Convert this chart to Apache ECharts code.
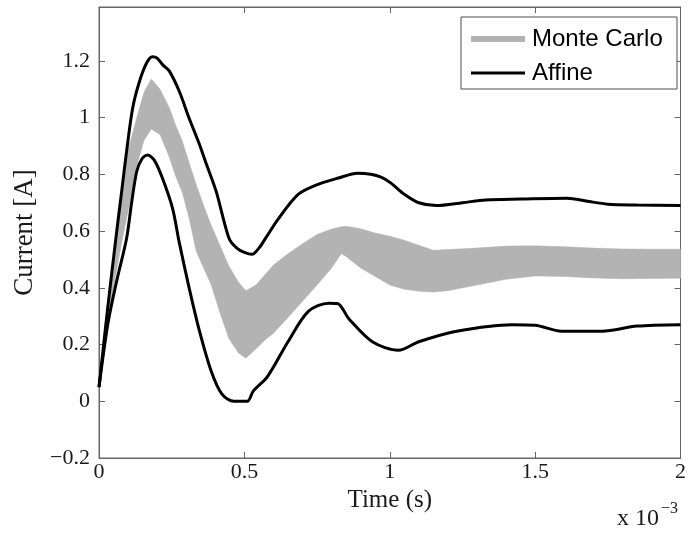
<!DOCTYPE html>
<html>
<head>
<meta charset="utf-8">
<script src="https://cdn.jsdelivr.net/npm/echarts@6/dist/echarts.min.js"></script>
<style>
  html, body { margin: 0; padding: 0; background: #fff; }
  #chart { width: 689px; height: 536px; }
</style>
</head>
<body>
<div id="chart"></div>
<script>
// Time in units of 1e-3 s
const bandTime = [0, 0.02, 0.04, 0.055, 0.08, 0.10, 0.13, 0.155, 0.18, 0.21, 0.242, 0.265, 0.287, 0.31, 0.334, 0.36, 0.386, 0.42, 0.447, 0.48, 0.505, 0.54, 0.57, 0.60, 0.65, 0.70, 0.75, 0.80, 0.833, 0.85, 0.90, 0.95, 1.0, 1.05, 1.10, 1.15, 1.20, 1.30, 1.40, 1.50, 1.60, 1.70, 1.80, 1.90, 2.0];
// Monte Carlo envelope (upper / lower edge of all runs), A
const mcUpper = [0.05, 0.25, 0.42, 0.564, 0.72, 0.885, 1.0, 1.09, 1.136, 1.10, 1.035, 0.97, 0.917, 0.84, 0.765, 0.69, 0.62, 0.54, 0.476, 0.42, 0.39, 0.41, 0.445, 0.48, 0.52, 0.555, 0.588, 0.607, 0.615, 0.617, 0.608, 0.593, 0.582, 0.568, 0.55, 0.532, 0.535, 0.54, 0.547, 0.548, 0.545, 0.54, 0.537, 0.536, 0.536];
const mcLower = [0.05, 0.18, 0.33, 0.43, 0.57, 0.67, 0.83, 0.92, 0.96, 0.94, 0.86, 0.79, 0.735, 0.645, 0.53, 0.47, 0.41, 0.30, 0.22, 0.17, 0.152, 0.185, 0.215, 0.24, 0.295, 0.353, 0.41, 0.47, 0.52, 0.51, 0.47, 0.44, 0.41, 0.395, 0.388, 0.385, 0.39, 0.41, 0.43, 0.442, 0.44, 0.435, 0.432, 0.433, 0.434];

// Affine arithmetic bounds
const affineUpperTime = [0, 0.03, 0.061, 0.078, 0.095, 0.116, 0.14, 0.165, 0.184, 0.20, 0.22, 0.242, 0.276, 0.31, 0.345, 0.368, 0.403, 0.447, 0.474, 0.50, 0.526, 0.55, 0.573, 0.618, 0.686, 0.754, 0.823, 0.89, 0.935, 0.97, 1.003, 1.05, 1.10, 1.16, 1.25, 1.33, 1.45, 1.61, 1.68, 1.75, 1.85, 2.0];
const affineUpper = [0.05, 0.33, 0.6, 0.74, 0.882, 1.035, 1.13, 1.195, 1.215, 1.21, 1.185, 1.164, 1.093, 0.998, 0.907, 0.84, 0.74, 0.575, 0.54, 0.525, 0.518, 0.54, 0.575, 0.645, 0.73, 0.765, 0.787, 0.804, 0.80, 0.79, 0.77, 0.73, 0.70, 0.69, 0.70, 0.71, 0.713, 0.716, 0.705, 0.695, 0.692, 0.69];
const affineLowerTime = [0, 0.03, 0.06, 0.095, 0.113, 0.13, 0.148, 0.167, 0.19, 0.218, 0.253, 0.276, 0.31, 0.345, 0.386, 0.423, 0.464, 0.51, 0.53, 0.58, 0.65, 0.72, 0.79, 0.82, 0.86, 0.94, 1.03, 1.10, 1.23, 1.42, 1.5, 1.59, 1.73, 1.85, 2.0];
const affineLower = [0.05, 0.27, 0.42, 0.575, 0.706, 0.811, 0.855, 0.868, 0.85, 0.787, 0.68, 0.56, 0.40, 0.25, 0.106, 0.025, 0, 0, 0.035, 0.088, 0.21, 0.317, 0.346, 0.345, 0.29, 0.21, 0.18, 0.21, 0.247, 0.27, 0.268, 0.247, 0.247, 0.265, 0.27];

const xTicks = [0, 0.5, 1, 1.5, 2];

const pair = (t, v) => t.map((x, i) => [x, v[i]]);
const bandRows = bandTime.map((t, i) => [t, mcLower[i], mcUpper[i]]);

const axisGray = '#666';
const textColor = '#1a1a1a';
const serif = '"Liberation Serif", "Times New Roman", serif';
const sans = '"Liberation Sans", Arial, sans-serif';
const fmtY = v => {
  const r = Number(v.toFixed(1));
  return r < 0 ? '\u2212' + Math.abs(r) : String(r);
};

// Filled envelope: upper edge left to right, then lower edge back
function renderBand(params, api) {
  if (params.dataIndex !== 0) return null;
  const pts = [];
  for (let i = 0; i < bandTime.length; i++) pts.push(api.coord([bandTime[i], mcUpper[i]]));
  for (let i = bandTime.length - 1; i >= 0; i--) pts.push(api.coord([bandTime[i], mcLower[i]]));
  return {
    type: 'polygon',
    shape: { points: pts },
    style: { fill: '#b3b3b3', stroke: '#b3b3b3', lineWidth: 0.5 }
  };
}

const mirrorAxis = {
  axisLine: { show: true, onZero: false, lineStyle: { color: axisGray } },
  axisTick: { show: true, inside: true, length: 6, lineStyle: { color: axisGray } },
  axisLabel: { show: false }, splitLine: { show: false }
};

const chart = echarts.init(document.getElementById('chart'));
chart.setOption({
  animation: false,
  backgroundColor: '#fff',
  grid: { left: 99, right: 5, top: 7, bottom: 78, show: true, borderColor: axisGray, borderWidth: 1 },
  xAxis: [{
    type: 'value', min: 0, max: 2, interval: 0.5,
    name: 'Time (s)', nameLocation: 'middle', nameGap: 22,
    nameTextStyle: { fontFamily: serif, fontSize: 25, color: textColor },
    axisLine: { show: true, onZero: false, lineStyle: { color: axisGray } },
    axisTick: { show: true, inside: true, length: 6, lineStyle: { color: axisGray } },
    axisLabel: { fontFamily: serif, fontSize: 22, color: textColor, margin: 3,
      formatter: v => xTicks.includes(Number(v.toFixed(2))) ? String(Number(v.toFixed(2))) : '' },
    splitLine: { show: false }
  }, Object.assign({ type: 'value', position: 'top', min: 0, max: 2, interval: 0.5 }, mirrorAxis)],
  yAxis: [{
    type: 'value', min: -0.2, max: 1.39, interval: 0.2,
    name: 'Current [A]', nameLocation: 'middle', nameGap: 61,
    nameTextStyle: { fontFamily: serif, fontSize: 27, color: textColor },
    axisLine: { show: true, onZero: false, lineStyle: { color: axisGray } },
    axisTick: { show: true, inside: true, length: 6, lineStyle: { color: axisGray } },
    axisLabel: { fontFamily: serif, fontSize: 22, color: textColor, margin: 9, showMaxLabel: false, formatter: fmtY },
    splitLine: { show: false }
  }, Object.assign({ type: 'value', position: 'right', min: -0.2, max: 1.39, interval: 0.2 }, mirrorAxis)],
  legend: [{
    data: [{ name: 'Monte Carlo', icon: 'rect', itemStyle: { color: '#b3b3b3' } }],
    left: 471, top: 27, padding: 0, itemWidth: 54, itemHeight: 6, itemGap: 0,
    textStyle: { fontFamily: sans, fontSize: 24, color: '#000', padding: [0, 0, 0, 2] }
  }, {
    data: [{ name: 'Affine', icon: 'rect', itemStyle: { color: '#000' } }],
    left: 471, top: 61, padding: 0, itemWidth: 54, itemHeight: 3, itemGap: 0,
    textStyle: { fontFamily: sans, fontSize: 24, color: '#000', padding: [0, 0, 0, 2] }
  }],
  graphic: [{
    type: 'rect', z: 3.5, silent: true,
    shape: { x: 461, y: 17, width: 216, height: 72 },
    style: { fill: '#fff', stroke: '#4d4d4d', lineWidth: 1 }
  }, {
    type: 'text', left: 617, top: 501, silent: true,
    style: {
      text: '{a|x 10}{b|\u22123}',
      rich: {
        a: { fontFamily: serif, fontSize: 24, fill: textColor, verticalAlign: 'bottom', lineHeight: 30 },
        b: { fontFamily: serif, fontSize: 16, fill: textColor, verticalAlign: 'top', lineHeight: 30, padding: [0, 0, 14, 2] }
      }
    }
  }],
  series: [{
    name: 'Monte Carlo', type: 'custom', renderItem: renderBand,
    data: bandRows, encode: { x: 0, y: [1, 2] }, color: '#b3b3b3', z: 2, silent: true
  }, {
    name: 'Affine', type: 'line', data: pair(affineUpperTime, affineUpper), smooth: 0.3,
    showSymbol: false, color: '#000', lineStyle: { color: '#000', width: 3 }, z: 3
  }, {
    name: 'Affine', type: 'line', data: pair(affineLowerTime, affineLower), smooth: 0.3,
    showSymbol: false, color: '#000', lineStyle: { color: '#000', width: 3 }, z: 3
  }]
});
</script>
</body>
</html>
